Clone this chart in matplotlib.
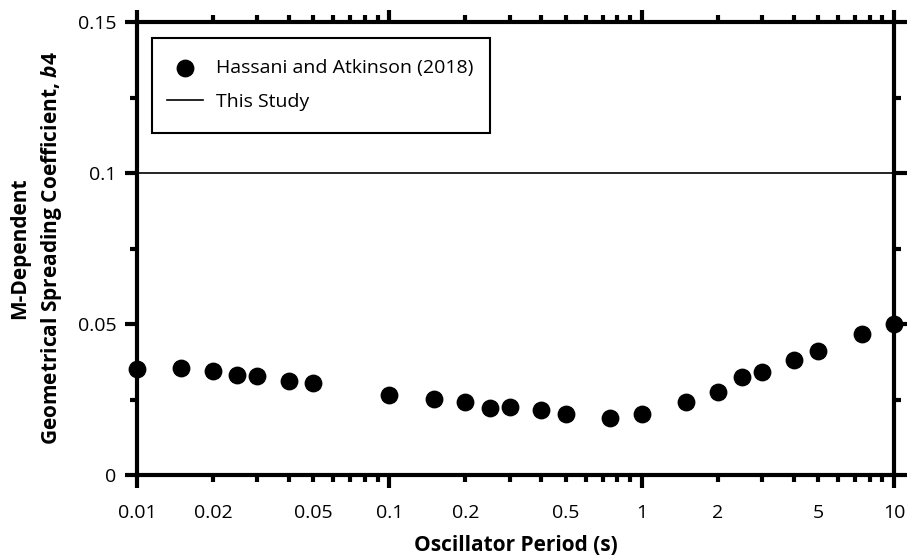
import matplotlib
matplotlib.use("Agg")
import matplotlib.pyplot as plt
from matplotlib.patches import Rectangle
from matplotlib.ticker import LogLocator, FixedLocator, FixedFormatter, FuncFormatter

plt.rcParams['font.family'] = ['Open Sans', 'DejaVu Sans']
plt.rcParams['mathtext.fontset'] = 'custom'
plt.rcParams['mathtext.it'] = 'Open Sans:italic:bold'
plt.rcParams['mathtext.rm'] = 'Open Sans:bold'

# Data
periods = [0.01, 0.015, 0.02, 0.025, 0.03, 0.04, 0.05, 0.1, 0.15, 0.2, 0.25, 0.3,
           0.4, 0.5, 0.75, 1.0, 1.5, 2.0, 2.5, 3.0, 4.0, 5.0, 7.5, 10.0]
b4_ha18 = [0.0351, 0.0355, 0.0345, 0.0331, 0.0329, 0.0310, 0.0305, 0.0265, 0.0253,
           0.0243, 0.0221, 0.0224, 0.0215, 0.0201, 0.0190, 0.0201, 0.0243, 0.0275,
           0.0323, 0.0342, 0.0381, 0.0410, 0.0467, 0.0499]
this_study_value = 0.1
xtick_vals = [0.01, 0.02, 0.05, 0.1, 0.2, 0.5, 1, 2, 5, 10]
xtick_labels = ['0.01', '0.02', '0.05', '0.1', '0.2', '0.5', '1', '2', '5', '10']
ytick_vals = [0, 0.05, 0.1, 0.15]
ytick_labels = ['0', '0.05', '0.1', '0.15']

fig = plt.figure(figsize=(9.08, 5.58), dpi=100)
ax = fig.add_axes([137/908, 83/558, 757/908, 453/558])

ax.scatter(periods, b4_ha18, s=140, color='black', zorder=3, clip_on=False,
           label='Hassani and Atkinson (2018)')
ax.axhline(this_study_value, color='black', lw=1.2, label='This Study')

ax.set_xscale('log')
ax.set_xlim(0.01, 10)
ax.set_ylim(0, 0.15)

label_map = dict(zip(xtick_vals, xtick_labels))


def xfmt(v, pos=None):
    for k, s in label_map.items():
        if abs(v - k) / k < 1e-6:
            return s
    return ''


ax.xaxis.set_major_locator(FixedLocator([0.01, 0.1, 1, 10]))
ax.xaxis.set_minor_locator(LogLocator(base=10, subs=range(2, 10), numticks=20))
ax.xaxis.set_major_formatter(FuncFormatter(xfmt))
ax.xaxis.set_minor_formatter(FuncFormatter(xfmt))
ax.yaxis.set_major_locator(FixedLocator(ytick_vals))
ax.yaxis.set_minor_locator(FixedLocator([0.025, 0.075, 0.125]))
ax.yaxis.set_major_formatter(FixedFormatter(ytick_labels))

for sp in ax.spines.values():
    sp.set_linewidth(3)

ax.tick_params(which='major', direction='out', length=9, width=3, color='black',
               top=True, right=True, labelsize=14)
ax.tick_params(which='minor', direction='out', length=5, width=3, color='black',
               top=True, right=True, labelsize=14)
ax.tick_params(axis='y', which='major', pad=6)
ax.tick_params(axis='x', which='major', pad=12)
ax.tick_params(axis='x', which='minor', pad=16)

ax.set_xlabel('Oscillator Period (s)', fontsize=15, fontweight='bold', labelpad=9)
ax.set_ylabel('M-Dependent\nGeometrical Spreading Coefficient, $\\mathit{b4}$',
              fontsize=15, fontweight='bold', labelpad=10, linespacing=1.45)

# legend frame
frame = Rectangle((15/757, 342/453), 338/757, 95/453, transform=ax.transAxes,
                  facecolor='white', edgecolor='black', lw=1.5, zorder=4)
ax.add_patch(frame)

leg = ax.legend(loc='upper left', bbox_to_anchor=(30/757, (475-59.5)/453),
                fontsize=14, frameon=False, borderpad=0, labelspacing=0.8,
                handlelength=1.85, handletextpad=0.67, borderaxespad=0,
                markerscale=1.0)
leg.set_zorder(5)

fig.savefig('out.png', dpi=100)
